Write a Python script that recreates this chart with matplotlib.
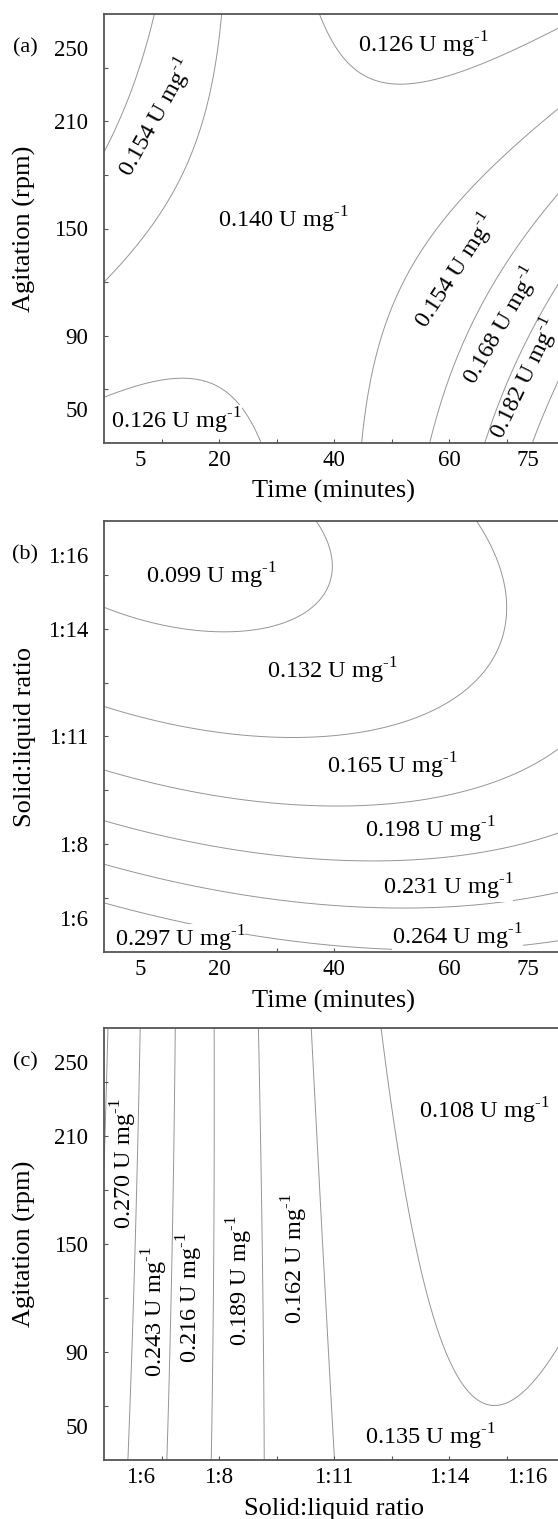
import numpy as np
import matplotlib.pyplot as plt
from matplotlib.transforms import blended_transform_factory

plt.rcParams['font.family'] = ['Liberation Serif', 'DejaVu Serif']
plt.rcParams['mathtext.fontset'] = 'custom'
plt.rcParams['mathtext.rm'] = 'Liberation Serif'

# axes are in coded units of the central composite design (-alpha .. +alpha)
coded = [-1.682, -1, 0, 1, 1.682]
time_lbl = ['5', '20', '40', '60', '75']
agit_lbl = ['50', '90', '150', '210', '250']
ratio_lbl = ['1:6', '1:8', '1:11', '1:14', '1:16']

# ---- (a) time (x) vs agitation (y): points read on each isoline
a_133 = [(-0.135, 2.0), (-0.026, 1.727), (0.128, 1.51), (0.313, 1.355), (0.515, 1.277),
         (0.809, 1.355), (1.118, 1.479), (1.428, 1.634), (1.948, 1.898),
         (-1.976, -1.606), (-1.667, -1.482), (-1.296, -1.389), (-1.048, -1.405),
         (-0.8, -1.529), (-0.677, -1.746), (-0.63, -1.993)]
a_147 = [(-0.986, 2.0), (-1.048, 1.355), (-1.171, 0.89), (-1.357, 0.487), (-1.604, 0.053),
         (-1.976, -0.474),
         (0.252, -1.99), (0.313, -1.28), (0.5, -0.66), (0.809, -0.102), (1.273, 0.425),
         (1.676, 0.828), (1.948, 1.107)]
a_161 = [(-1.558, 2.0), (-1.667, 1.51), (-1.821, 1.107), (-1.976, 0.766),
         (0.84, -1.99), (0.963, -1.28), (1.273, -0.598), (1.583, -0.133), (1.948, 0.332)]
a_175 = [(1.32, -1.99), (1.49, -1.435), (1.737, -0.97), (1.948, -0.66)]
a_189 = [(1.737, -1.99), (1.861, -1.653), (1.948, -1.374)]
a_iso = [(0.133, a_133), (0.147, a_147), (0.161, a_161), (0.175, a_175), (0.189, a_189)]
a_band = ['0.126', '0.154', '0.140', '0.126', '0.154', '0.168', '0.182']

# ---- (b) time (x) vs solid:liquid ratio (y)
b_1155 = [(-1.976, 1.181), (-1.481, 1.058), (-0.957, 0.949), (-0.429, 1.088), (-0.183, 1.274),
          (-0.026, 1.491), (-0.011, 1.709), (-0.122, 2.0)]
b_1485 = [(-1.976, 0.267), (-1.357, 0.096), (-0.739, -0.012), (-0.274, -0.012), (0.19, 0.065),
          (0.809, 0.313), (1.273, 0.623), (1.487, 0.965), (1.522, 1.181), (1.426, 1.584),
          (1.243, 2.0)]
b_1815 = [(-1.976, -0.323), (-1.357, -0.493), (-0.583, -0.648), (-0.122, -0.663), (0.5, -0.633),
          (1.118, -0.524), (1.583, -0.369), (1.948, -0.152)]
b_2145 = [(-1.976, -0.788), (-1.357, -0.927), (-0.429, -1.098), (0.19, -1.144), (0.809, -1.144),
          (1.426, -1.082), (1.948, -0.927)]
b_2475 = [(-1.976, -1.191), (-1.048, -1.407), (-0.122, -1.547), (0.652, -1.593), (1.426, -1.516),
          (1.948, -1.377)]
b_2805 = [(-1.976, -1.547), (-1.481, -1.687), (-0.645, -1.873), (0.19, -1.966), (0.809, -1.981),
          (1.426, -1.951), (1.948, -1.919)]
b_iso = [(0.1155, b_1155), (0.1485, b_1485), (0.1815, b_1815), (0.2145, b_2145),
         (0.2475, b_2475), (0.2805, b_2805)]
b_band = ['0.099', '0.132', '0.165', '0.198', '0.231', '0.297', '0.264']

# ---- (c) solid:liquid ratio (x) vs agitation (y)
c_1215 = [(0.394, 2.0), (0.646, 0.524), (0.748, -0.093), (0.922, -0.872), (1.154, -1.367),
          (1.371, -1.538), (1.557, -1.476), (1.791, -1.209), (1.948, -0.93)]
c_1485 = [(-0.209, 2.0), (-0.098, 0.0), (0.009, -1.97)]
c_1755 = [(-0.658, 2.0), (-0.635, 0.0), (-0.609, -1.97)]
c_2025 = [(-1.035, 2.0), (-1.05, 0.0), (-1.063, -1.97)]
c_2295 = [(-1.374, 2.0), (-1.411, 0.0), (-1.455, -1.97)]
c_2565 = [(-1.681, 2.0), (-1.722, 0.0), (-1.789, -1.97)]
c_2835 = [(-1.963, 2.0), (-1.99, 1.47)]
c_iso = [(0.1215, c_1215), (0.1485, c_1485), (0.1755, c_1755), (0.2025, c_2025),
         (0.2295, c_2295), (0.2565, c_2565), (0.2835, c_2835)]
c_band = ['0.108', '0.270', '0.243', '0.216', '0.189', '0.162', '0.135']

# label placement (coded units) and rotation
a_pos = [(0.778, 1.71), (-1.543, 1.03), (-0.443, 0.084), (-1.374, -1.79),
         (1.061, -0.40), (1.46, -0.91), (1.66, -1.40)]
a_rot = [0, 61, 0, 0, 57, 60, 64]
b_pos = [(-1.07, 1.49), (-0.017, 0.607), (0.506, -0.276), (0.834, -0.865),
         (0.99, -1.393), (-1.34, -1.879), (1.074, -1.857)]
b_rot = [0] * 7
c_pos = [(1.305, 1.237), (-1.831, 0.744), (-1.557, -0.623), (-1.252, -0.5),
         (-0.817, -0.344), (-0.339, -0.14), (0.834, -1.786)]
c_rot = [0, 90, 90, 90, 90, 90, 0]


def surface(iso, deg=2):
    # least-squares quadratic response surface through the isoline points
    x, y, z = [], [], []
    for lev, pts in iso:
        for px, py in pts:
            x.append(px); y.append(py); z.append(lev)
    x, y, z = np.array(x), np.array(y), np.array(z)

    def terms(u, v):
        return np.stack([u**i * v**j for i in range(deg + 1) for j in range(deg + 1 - i)], -1)
    coef = np.linalg.lstsq(terms(x, y), z, rcond=None)[0]
    g = np.linspace(-2, 2, 241)
    X, Y = np.meshgrid(g, g)
    return X, Y, terms(X, Y) @ coef


W, H = 558, 1519
fig = plt.figure(figsize=(W / 100, H / 100), dpi=100)
spine_c = '#555555'


def panel(top, bottom, iso, bands, pos, rot, xl, yl, xname, yname, tag):
    ax = fig.add_axes([104 / W, 1 - bottom / H, 460 / W, (bottom - top) / H])
    X, Y, Z = surface(iso)
    ax.contour(X, Y, Z, levels=[lev for lev, _ in iso], colors='#959595',
               linewidths=0.7, zorder=1)
    for txt, (tx, ty), r in zip(bands, pos, rot):
        t = ax.text(tx, ty, txt + ' U mg$^{\\mathregular{\u2010}1}$', fontsize=17.5,
                    rotation=r, ha='center', va='center', rotation_mode='anchor', zorder=2)
        if r == 0:
            t.set_bbox(dict(facecolor='white', edgecolor='none', pad=0.2))
    ax.set_xlim(-2, 2)
    ax.set_ylim(-2, 2)
    ax.set_xticks(coded)
    ax.set_xticklabels(xl)
    ax.set_yticks(coded)
    ax.set_yticklabels(yl)
    minor = np.arange(-1.5, 1.6, 0.5)
    ax.set_xticks(minor, minor=True)
    ax.set_yticks(minor, minor=True)
    ax.xaxis.remove_overlapping_locs = False
    ax.yaxis.remove_overlapping_locs = False
    ax.tick_params(which='major', length=0, labelsize=16.5)
    ax.tick_params(axis='x', which='major', pad=5)
    ax.tick_params(axis='y', which='major', pad=11.5)
    ax.tick_params(which='minor', length=3, direction='in', color=spine_c, width=0.8)
    for s in ax.spines.values():
        s.set_color(spine_c)
        s.set_linewidth(1.3)
        s.set_zorder(4)
    ax.set_xlabel(xname, fontsize=19, va='center')
    ax.set_ylabel(yname, fontsize=19, va='center')
    ax.xaxis.set_label_coords(0.5, -0.114)
    ax.yaxis.set_label_coords(-0.172, 0.5)
    tr = blended_transform_factory(ax.transAxes, ax.transData)
    ax.text(-0.172, 1.682, tag, transform=tr, fontsize=16, ha='center', va='center')
    return ax


panel(14, 443, a_iso, a_band, a_pos, a_rot, time_lbl, agit_lbl,
      'Time (minutes)', 'Agitation (rpm)', '(a)')
panel(521, 952, b_iso, b_band, b_pos, b_rot, time_lbl, ratio_lbl,
      'Time (minutes)', 'Solid:liquid ratio', '(b)')
panel(1028, 1460, c_iso, c_band, c_pos, c_rot, ratio_lbl, agit_lbl,
      'Solid:liquid ratio', 'Agitation (rpm)', '(c)')

fig.savefig('out.png', dpi=100)
